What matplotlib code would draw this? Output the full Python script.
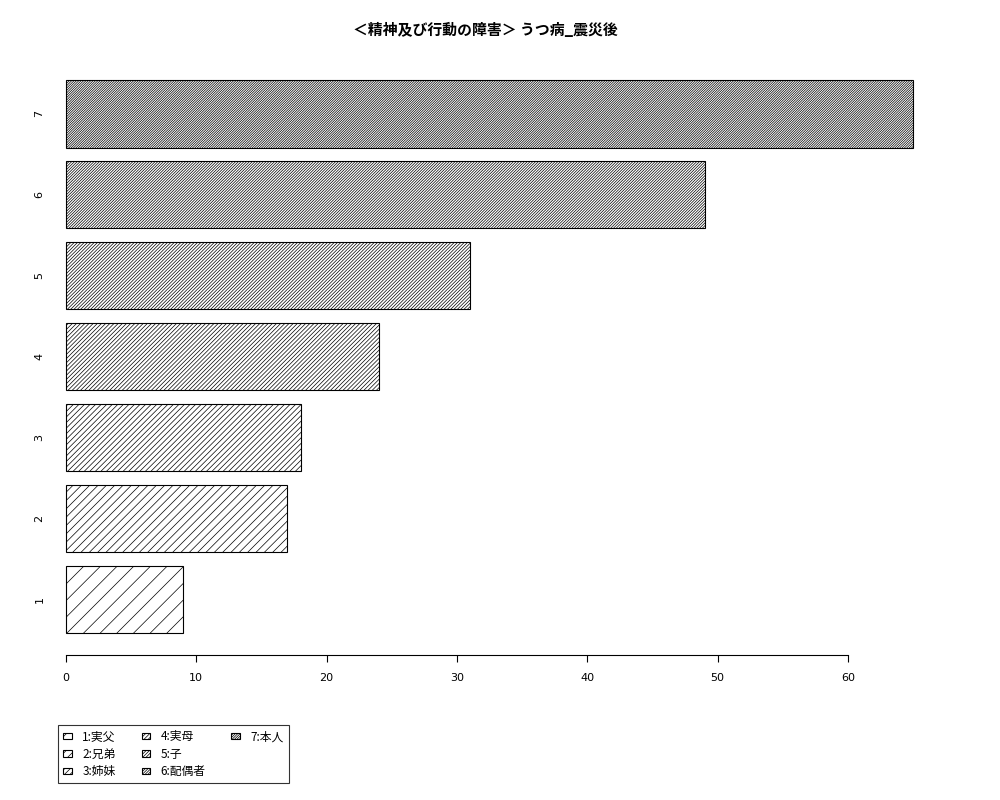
import matplotlib
matplotlib.use("Agg")
import matplotlib.pyplot as plt
from matplotlib.patches import Rectangle

# data
labels = ["1", "2", "3", "4", "5", "6", "7"]
values = [9, 17, 18, 24, 31, 49, 65]
legend_names = ["1:実父", "2:兄弟", "3:姉妹", "4:実母", "5:子", "6:配偶者", "7:本人"]
xticks = [0, 10, 20, 30, 40, 50, 60]
title = "＜精神及び行動の障害＞ うつ病_震災後"

plt.rcParams['font.family'] = ['Noto Sans CJK JP', 'DejaVu Sans']
plt.rcParams['hatch.linewidth'] = 0.5

fig = plt.figure(figsize=(10, 8), dpi=100)
ax = fig.add_axes([0.032, 0.181, 0.915, 0.7465])

# R style barplot: width 1, space 0.2, density grows with each bar
centers = [0.7 + 1.2 * i for i in range(len(values))]
bars = []
for i, (c, v) in enumerate(zip(centers, values)):
    b = ax.barh(c, v, height=1.0, color="white", edgecolor="black",
                linewidth=0.8, hatch="/" * (2 * (i + 1)), label=legend_names[i])
    bars.append(b)

ax.set_xlim(-2.6, 67.6)
ax.set_ylim(-0.128, 8.728)

for s in ["top", "right", "left"]:
    ax.spines[s].set_visible(False)
ax.spines["bottom"].set_bounds(xticks[0], xticks[-1])
ax.spines["bottom"].set_linewidth(0.8)

ax.set_xticks(xticks)
ax.set_xticklabels([str(t) for t in xticks], fontsize=8, family="DejaVu Sans")
ax.tick_params(axis="x", length=5, width=0.8, pad=8)

ax.set_yticks(centers)
ax.set_yticklabels(labels, rotation=90, va="center", fontsize=8, family="DejaVu Sans")
ax.tick_params(axis="y", length=0, pad=-9)

fig.text(0.485, 0.963, title, ha="center", va="center", fontsize=10.7,
         fontweight="bold")

# legend: 3 columns filled column by column (3, 3, 1) like R
blank = Rectangle((0, 0), 1, 1, visible=False)
handles = [b.patches[0] for b in bars] + [blank, blank]
names = legend_names + ["", ""]
leg = fig.legend(handles=handles, labels=names, ncol=3,
                 loc="upper left", bbox_to_anchor=(0.058, 0.094),
                 fontsize=8.5, frameon=True, fancybox=False, edgecolor="black",
                 handlelength=0.7, handleheight=0.5, handletextpad=0.9,
                 columnspacing=2.2, labelspacing=0.38, borderpad=0.45,
                 borderaxespad=0)
leg.get_frame().set_linewidth(0.8)

fig.savefig("out.png", dpi=100)
